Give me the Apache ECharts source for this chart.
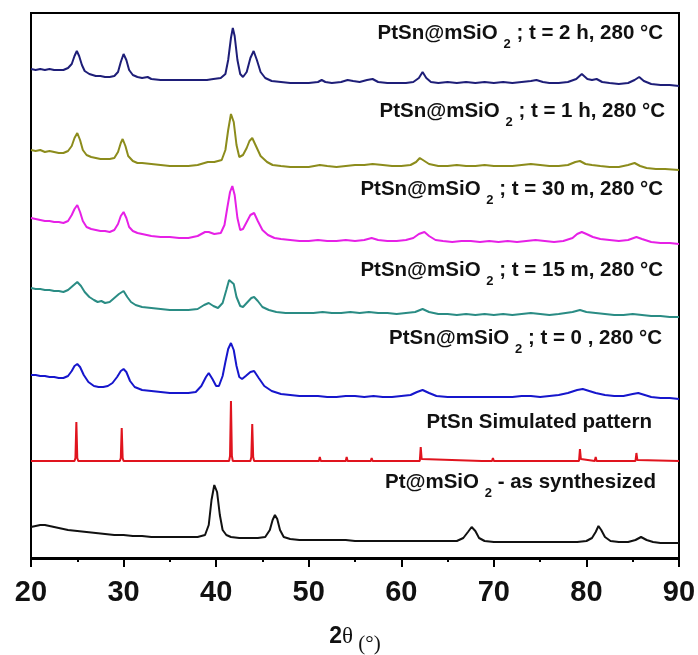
<!DOCTYPE html>
<html>
<head>
<meta charset="utf-8">
<script src="https://cdn.jsdelivr.net/npm/echarts@6/dist/echarts.min.js"></script>
<style>
  html, body { margin: 0; padding: 0; background: #fff; }
  #chart { width: 698px; height: 655px; }
</style>
</head>
<body>
<div id="chart"></div>
<script>
// XRD patterns, [2θ (deg), stacked intensity (a.u.)]
const xTicks = [20, 30, 40, 50, 60, 70, 80, 90];

const pt2h = [[20,489],[20.5,488],[21,489],[21.5,488],[22,489],[22.5,488],[23,488],[23.5,488],[24,490],[24.4,494],[24.7,502],[24.95,507],[25.2,502],[25.5,493],[25.8,487],[26.3,484],[27,482],[27.5,482],[28,481],[28.5,481],[29,482],[29.4,486],[29.7,496],[30,504],[30.3,498],[30.6,488],[31,483],[31.5,481],[32,480],[32.6,481],[33,479],[34,478],[35,478],[36,478],[37,478],[38,478],[39,478],[39.7,479],[40.5,480],[41,484],[41.3,498],[41.6,520],[41.8,530],[42,522],[42.3,498],[42.6,484],[42.9,481],[43.3,486],[43.7,500],[44.05,507],[44.4,498],[44.8,486],[45.3,480],[46,477],[47,476],[48,475],[49,475],[50,475],[51,476],[51.4,478],[51.8,476],[52.5,475],[53.5,476],[54.2,478],[54.8,477],[55.5,476],[56.3,478],[56.9,479],[57.5,476],[58.5,475],[59.5,475],[60.5,475],[61.3,476],[61.9,480],[62.3,486],[62.7,480],[63.2,476],[64,475],[65,476],[66,475],[67,476],[68,475],[69,476],[70,475],[71,476],[72,475],[73,476],[74,477],[74.6,478],[75.3,476],[76,475],[77,475],[78,476],[78.9,479],[79.5,484],[80.1,479],[80.6,478],[81.1,479],[81.7,476],[82.5,475],[83.5,474],[84.5,475],[85.2,478],[85.7,481],[86.2,477],[87,474],[88,473],[89,473],[90,472]];

const pt1h = [[20,408],[20.5,407],[21,408],[21.5,406],[22,407],[22.5,406],[23,405],[23.5,405],[24,407],[24.4,412],[24.7,420],[25,425],[25.3,418],[25.6,408],[26,403],[26.5,401],[27,400],[27.5,399],[28,399],[28.5,399],[29,400],[29.4,406],[29.7,415],[29.9,419],[30.2,412],[30.5,402],[31,397],[31.5,395],[32,395],[33,394],[34,393],[35,392],[36,392],[37,392],[38,393],[39.1,396],[39.8,396],[40.6,398],[41,408],[41.3,428],[41.6,444],[41.9,436],[42.2,413],[42.5,401],[42.9,403],[43.3,410],[43.6,417],[43.9,420],[44.3,412],[44.8,402],[45.5,396],[46.1,393],[47,392],[48,391],[49,391],[50,391],[51.2,393],[52,392],[53,391],[54,392],[55,393],[56,393],[56.9,394],[58,393],[59,392],[60,392],[61,393],[61.6,396],[62,400],[62.5,397],[63,394],[64,392],[65,392],[66,393],[67,392],[68,392],[69,393],[70,392],[71,392],[72,392],[73,393],[74,394],[75,393],[76,392],[77,392],[78,393],[78.8,396],[79.3,397],[79.9,394],[80.6,393],[81.5,392],[82.5,391],[83.5,391],[84.5,393],[85.2,395],[85.8,392],[86.5,390],[87.5,389],[88.5,389],[90,388]];

const pt30m = [[20,340],[20.5,339],[21,338],[21.5,337],[22,337],[22.5,336],[23,336],[23.5,335],[24,337],[24.4,343],[24.7,349],[25,353],[25.3,346],[25.6,337],[26,331],[26.5,329],[27,328],[27.5,327],[28,327],[28.5,326],[29,328],[29.4,334],[29.7,342],[30,346],[30.3,340],[30.6,331],[31,327],[31.5,325],[32,324],[33,322],[34,321],[35,321],[36,320],[37,320],[38,322],[38.8,326],[39.2,326],[39.8,324],[40.5,325],[40.9,333],[41.2,350],[41.5,366],[41.75,372],[42,363],[42.3,340],[42.6,328],[42.9,329],[43.3,336],[43.7,343],[44.1,345],[44.5,337],[45,328],[45.6,323],[46.3,320],[47,319],[48,318],[49,317],[50,317],[51,318],[52,317],[53,317],[54,318],[55,317],[56,318],[56.8,320],[57.5,318],[58.5,317],[59.5,317],[60.5,318],[61.3,320],[61.9,324],[62.5,326],[63,322],[63.7,318],[64.5,317],[65.5,316],[66.5,317],[67.5,317],[68.5,316],[69.5,317],[70.5,316],[71.5,317],[72.5,316],[73.5,317],[74.5,318],[75.5,317],[76.5,316],[77.5,317],[78.5,320],[79,324],[79.5,326],[80,324],[80.7,321],[81.5,319],[82.5,318],[83.5,317],[84.5,318],[85.4,321],[86,319],[87,316],[88,315],[89,315],[90,314]];

const pt15m = [[20,270],[20.5,269],[21,269],[21.5,268],[22,268],[22.5,267],[23,267],[23.5,266],[24,268],[24.5,272],[25,276],[25.4,272],[25.8,266],[26.3,261],[26.8,258],[27.2,256],[27.6,257],[28,255],[28.5,256],[29,260],[29.5,264],[30,267],[30.4,261],[30.8,256],[31.3,253],[32,251],[33,250],[34,249],[35,248],[36,248],[37,248],[38,249],[38.7,253],[39.2,255],[39.7,252],[40.2,250],[40.7,255],[41.1,268],[41.4,278],[41.6,280],[41.9,274],[42.2,261],[42.6,252],[42.9,251],[43.4,256],[43.8,260],[44.1,261],[44.5,257],[45,251],[45.7,248],[46.5,246],[47.5,245],[48.5,245],[49.5,245],[50.5,245],[51.5,246],[52.5,245],[53.5,245],[54.5,246],[55.5,245],[56.5,246],[57.5,245],[58.5,245],[59.5,244],[60.5,245],[61.5,246],[62.3,249],[63,246],[64,244],[65,244],[66,243],[67,244],[68,243],[69,244],[70,243],[71,244],[72,243],[73,244],[74,245],[75,244],[76,243],[77,244],[78.5,246],[79.3,248],[80,246],[81,245],[82,244],[83,243],[84,243],[85,244],[86,243],[87,242],[88,242],[89,241],[90,241]];

const pt0 = [[20,183],[20.5,183],[21,182],[21.5,182],[22,181],[22.5,181],[23,180],[23.5,180],[24,182],[24.4,187],[24.7,192],[25,194],[25.3,191],[25.7,183],[26.2,176],[26.8,172],[27.3,171],[27.8,171],[28.3,172],[28.8,175],[29.3,181],[29.7,187],[30,189],[30.3,186],[30.7,177],[31.2,171],[32,168],[33,167],[34,166],[35,165],[36,165],[37,165],[37.8,166],[38.4,172],[38.9,181],[39.2,185],[39.6,179],[40,172],[40.3,172],[40.7,182],[41,196],[41.3,209],[41.6,215],[41.9,208],[42.2,192],[42.5,181],[42.8,179],[43.2,182],[43.7,186],[44.1,187],[44.6,180],[45.2,172],[46,167],[47,164],[48,163],[49,162],[50,162],[51,162],[52,161],[53,161],[54,162],[55,162],[56,161],[57,162],[58,161],[59,161],[60,162],[61,163],[61.7,166],[62.3,168],[63,165],[63.8,162],[65,161],[66,161],[67,161],[68,161],[69,161],[70,161],[71,161],[72,161],[73,162],[74,162],[75,161],[76,162],[77,163],[78,165],[79,168],[79.6,169],[80.3,167],[81,165],[82,163],[83,162],[84,162],[85,164],[85.6,165],[86.3,163],[87,161],[88,160],[89,160],[90,159]];

const ptsnSim = [[20,97],[24.7,97],[24.8,100],[24.9,136],[25,100],[25.1,97],[29.6,97],[29.7,100],[29.8,130],[29.9,100],[30,97],[32.6,97],[32.7,99],[32.8,97],[41.4,97],[41.5,102],[41.6,157],[41.7,102],[41.8,97],[43.7,97],[43.8,101],[43.9,134],[44,101],[44.1,97],[51.1,97],[51.2,101],[51.3,97],[54,97],[54.1,101],[54.2,97],[55.7,97],[55.8,98],[55.9,97],[56.7,97],[56.8,100],[56.9,97],[62,97],[62.1,111],[62.2,99],[62.3,97],[68.7,97],[68.8,99],[68.9,97],[69.8,97],[69.9,100],[70,97],[72.2,97],[72.3,99],[72.4,97],[73.4,97],[73.5,99],[73.6,97],[79.2,97],[79.3,109],[79.4,99],[79.5,97],[80.9,97],[81,101],[81.1,97],[85.3,97],[85.4,105],[85.5,98],[85.6,97],[90,97]];

const ptAsSynth = [[20,31],[20.5,32],[21,33],[21.5,33],[22,32],[22.5,31],[23,30],[23.5,29],[24,28],[25,27],[26,26],[27,25],[28,24],[29,23],[30,23],[31,22],[32,22],[33,21],[34,21],[35,21],[36,21],[37,21],[38,21],[38.8,23],[39.2,33],[39.5,58],[39.8,73],[40.1,66],[40.4,43],[40.7,28],[41.1,23],[41.6,21],[42.5,20],[43.5,20],[44.5,20],[45.3,21],[45.8,28],[46.1,38],[46.35,43],[46.6,39],[46.9,28],[47.3,21],[48,19],[49,18],[50,18],[52,18],[54,18],[55,17],[58,17],[62,17],[66,17],[66.7,20],[67.2,26],[67.6,31],[68,27],[68.4,20],[69,17],[70,16],[74,16],[79,16],[80,17],[80.6,20],[81,26],[81.3,32],[81.6,28],[82,21],[82.6,17],[83.5,16],[84.5,16],[85.3,18],[85.9,21],[86.5,18],[87.2,16],[88,15],[89,15],[90,15]];

const patterns = [pt2h, pt1h, pt30m, pt15m, pt0, ptsnSim, ptAsSynth];
const sampleNames = ['t = 2 h', 't = 1 h', 't = 30 m', 't = 15 m', 't = 0', 'PtSn simulated', 'Pt@mSiO2 as synthesized'];
const lineColors = ['#1e1e78', '#8c8c1c', '#e620e6', '#2a8c84', '#1616cc', '#e0141e', '#111111'];

// Sample labels: main text, subscript, tail
const labelParts = [
  ['PtSn@mSiO ', '2', ' ; t = 2 h, 280 °C'],
  ['PtSn@mSiO ', '2', ' ; t = 1 h, 280 °C'],
  ['PtSn@mSiO ', '2', ' ; t = 30 m, 280 °C'],
  ['PtSn@mSiO ', '2', ' ; t = 15 m, 280 °C'],
  ['PtSn@mSiO ', '2', ' ; t = 0 , 280 °C'],
  ['PtSn Simulated pattern', '', ''],
  ['Pt@mSiO ', '2', ' - as synthesized']
];
const labelTop = [23, 101, 179, 260, 328, 412, 472];
const labelRight = [35, 33, 35, 35, 36, 46, 42];

const sans = "'Liberation Sans', Arial, sans-serif";
const serif = "'Liberation Serif', 'Times New Roman', serif";

const chart = echarts.init(document.getElementById('chart'), null, { renderer: 'canvas' });

const titles = labelParts.map((p, i) => ({
  text: p[1] ? `{m|${p[0]}}{s|${p[1]}}{m|${p[2]}}` : `{m|${p[0]}}`,
  right: labelRight[i],
  top: labelTop[i],
  padding: 0,
  textStyle: {
    rich: {
      m: { fontFamily: sans, fontWeight: 'bold', fontSize: 20.5, color: '#111', lineHeight: 28, verticalAlign: 'top' },
      s: { fontFamily: sans, fontWeight: 'bold', fontSize: 13, color: '#111', lineHeight: 28, verticalAlign: 'bottom' }
    }
  }
}));

chart.setOption({
  animation: false,
  backgroundColor: '#fff',
  title: titles,
  grid: {
    left: 31, right: 19, top: 13, bottom: 96,
    outerBoundsMode: 'none',
    containLabel: false,
    show: true, borderColor: '#000', borderWidth: 2, backgroundColor: 'transparent'
  },
  xAxis: {
    type: 'value',
    min: xTicks[0],
    max: xTicks[xTicks.length - 1],
    interval: 10,
    axisLine: { show: true, lineStyle: { color: '#000', width: 2 } },
    axisTick: { show: true, length: 9, lineStyle: { color: '#000', width: 2 } },
    minorTick: { show: true, splitNumber: 2, length: 4, lineStyle: { color: '#000', width: 2 } },
    splitLine: { show: false },
    axisLabel: { margin: 19, fontFamily: sans, fontWeight: 'bold', fontSize: 29, color: '#111' },
    name: '{a|2}{b|θ}{c| (°)}',
    nameLocation: 'middle',
    nameGap: 66,
    nameTextStyle: {
      rich: {
        a: { fontFamily: sans, fontWeight: 'bold', fontSize: 23, color: '#111', lineHeight: 30, verticalAlign: 'top' },
        b: { fontFamily: serif, fontSize: 23, color: '#111', lineHeight: 30, verticalAlign: 'top' },
        c: { fontFamily: serif, fontSize: 21, color: '#111', lineHeight: 30, verticalAlign: 'bottom' }
      }
    }
  },
  yAxis: {
    type: 'value',
    min: -1,
    max: 545,
    show: false
  },
  series: patterns.map((d, i) => ({
    name: sampleNames[i],
    type: 'line',
    data: d,
    showSymbol: false,
    symbol: 'none',
    lineStyle: { color: lineColors[i], width: 2 },
    z: 3
  }))
});
</script>
</body>
</html>
